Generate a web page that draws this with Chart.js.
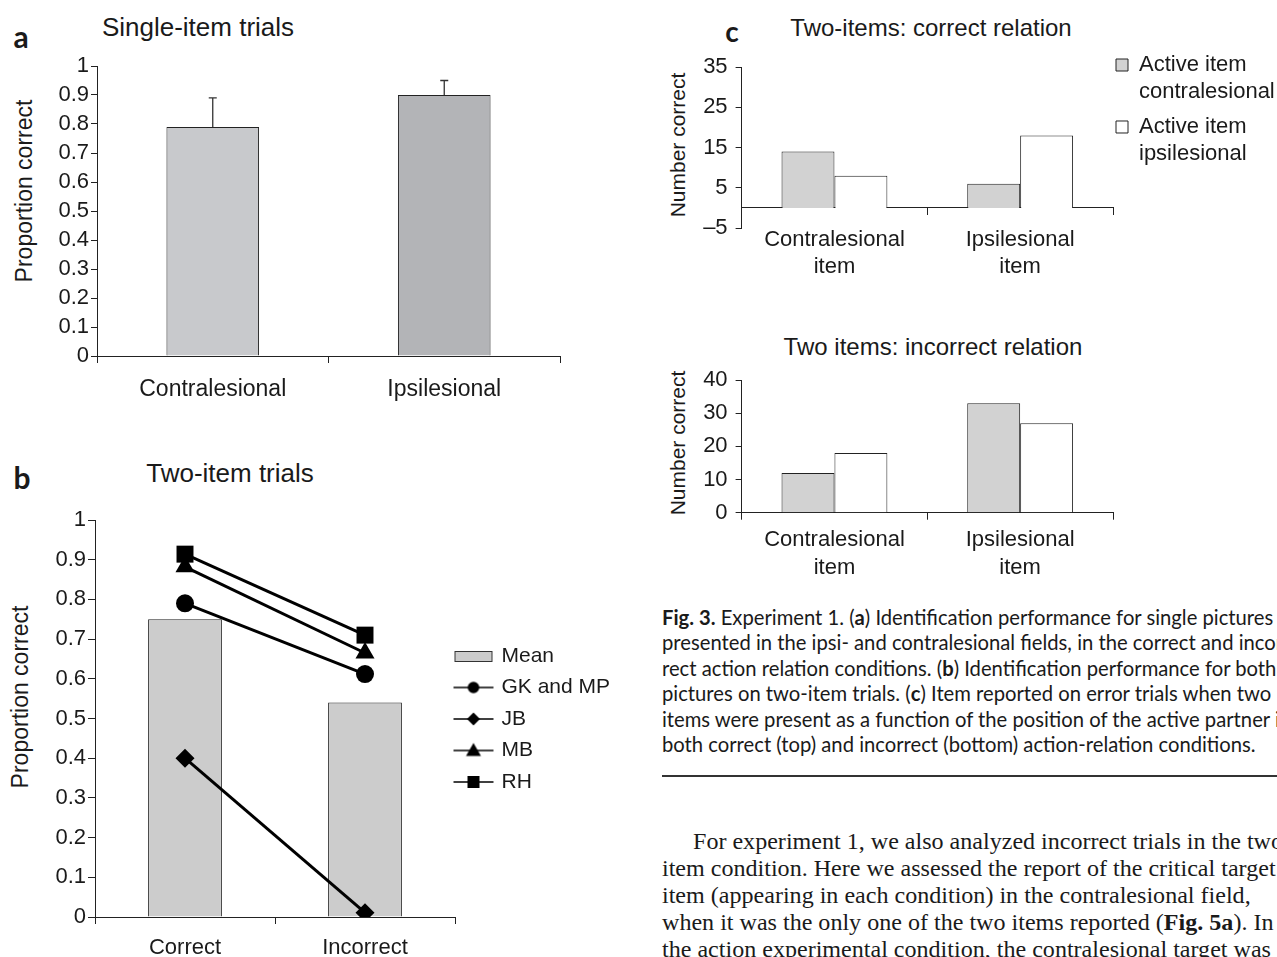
<!DOCTYPE html>
<html>
<head>
<meta charset="utf-8">
<script src="https://cdn.jsdelivr.net/npm/chart.js@4.4.1/dist/chart.umd.min.js"></script>
<style>
  html, body { margin: 0; padding: 0; background: #fff; }
  body { width: 1277px; height: 957px; position: relative; overflow: hidden;
         font-family: "Liberation Sans", Arial, sans-serif; color: #1a1a1a; }
  canvas { position: absolute; }
  .lbl { position: absolute; white-space: nowrap; line-height: 1; transform: translate(-50%, -50%); }
  .letter { font-family: Lato, sans-serif; font-weight: bold; font-size: 30px; }
  .ytitle { transform: translate(-50%, -50%) rotate(-90deg); }
  .caption { position: absolute; left: 662px; font-family: Lato, sans-serif; font-size: 18px;
             line-height: 25.4px; white-space: nowrap; color: #1a1a1a; }
  .rule { position: absolute; left: 662px; top: 775px; width: 640px; height: 2px; background: #333; }
  .bodytext { position: absolute; left: 662px; font-family: "Liberation Serif", serif; font-size: 21px;
              line-height: 27px; white-space: nowrap; color: #1a1a1a; }
</style>
</head>
<body>

<div class="lbl letter" style="left:21px; top:36px;">a</div>
<div class="lbl" style="left:198px; top:27px; font-size:26px;">Single-item trials</div>
<div class="lbl ytitle" style="left:24px; top:191px; font-size:23px;">Proportion correct</div>
<canvas id="chartA" width="580" height="390" style="left:0; top:40px;"></canvas>

<div class="lbl letter" style="left:22px; top:477px;">b</div>
<div class="lbl" style="left:230px; top:473px; font-size:26px;">Two-item trials</div>
<div class="lbl ytitle" style="left:20px; top:697px; font-size:23px;">Proportion correct</div>
<canvas id="chartB" width="640" height="462" style="left:0; top:495px;"></canvas>

<div class="lbl letter" style="left:732px; top:31px; font-size:28px;">c</div>
<div class="lbl" style="left:931px; top:28px; font-size:24px;">Two-items: correct relation</div>
<div class="lbl ytitle" style="left:677px; top:145px; font-size:21px;">Number correct</div>
<canvas id="chartC1" width="637" height="290" style="left:640px; top:0;"></canvas>

<div class="lbl" style="left:933px; top:347px; font-size:24px;">Two items: incorrect relation</div>
<div class="lbl ytitle" style="left:677px; top:443px; font-size:21px;">Number correct</div>
<canvas id="chartC2" width="637" height="280" style="left:640px; top:310px;"></canvas>

<div class="caption" id="caption" style="top:605px;">
  <div><b>Fig. 3.</b> Experiment 1. (<b>a</b>) Identification performance for single pictures</div>
  <div>presented in the ipsi- and contralesional fields, in the correct and incor-</div>
  <div>rect action relation conditions. (<b>b</b>) Identification performance for both</div>
  <div>pictures on two-item trials. (<b>c</b>) Item reported on error trials when two</div>
  <div>items were present as a function of the position of the active partner in</div>
  <div><span id="capRef">both correct (top) and incorrect (bottom) action-relation conditions.</span></div>
</div>
<div class="rule"></div>
<div class="bodytext" id="bodytext" style="top:828px;">
  <div style="padding-left:31px;"><span id="bodyRef">For experiment 1, we also analyzed incorrect trials</span> in the two-</div>
  <div>item condition. Here we assessed the report of the critical target</div>
  <div>item (appearing in each condition) in the contralesional field,</div>
  <div>when it was the only one of the two items reported (<b>Fig. 5a</b>). In</div>
  <div>the action experimental condition, the contralesional target was</div>
</div>

<script>
// panel a: single-item trials
const singleCats = ['Contralesional', 'Ipsilesional'];
const singleMeans = [0.79, 0.90];
const singleErrors = [0.10, 0.05];
const propTicks = ['0', '0.1', '0.2', '0.3', '0.4', '0.5', '0.6', '0.7', '0.8', '0.9', '1'];

// panel b: two-item trials
const twoCats = ['Correct', 'Incorrect'];
const twoMeans = [0.75, 0.54];
const gkmp = [0.79, 0.612];
const jb = [0.40, 0.011];
const mb = [0.882, 0.665];
const rh = [0.914, 0.71];

// panel c: item reported on error trials
const itemCats = [['Contralesional', 'item'], ['Ipsilesional', 'item']];
const correctContra = [14, 6];
const correctIpsi = [8, 18];
const incorrectContra = [12, 33];
const incorrectIpsi = [18, 27];
const correctTicks = ['\u20135', '5', '15', '25', '35'];
const incorrectTicks = ['0', '10', '20', '30', '40'];

Chart.defaults.font.family = '"Liberation Sans", Arial, sans-serif';
Chart.defaults.color = '#1a1a1a';
Chart.defaults.animation = false;

const INK = '#222';
const GRAY = '#d2d2d2';

const valueAxis = (o) => ({
    min: o.min,
    max: o.max,
    border: { display: true, color: INK, width: 1 },
    grid: { drawOnChartArea: false, drawTicks: true, tickLength: o.tick, color: INK },
    ticks: {
        stepSize: o.step,
        autoSkip: false,
        padding: o.pad,
        font: { size: o.size },
        color: '#1a1a1a',
        callback: (v, i) => o.labels[i]
    },
    afterFit: (s) => { s.width = o.width; }
});

const catAxis = (o) => {
    const axis = {
        border: { display: true, color: INK, width: 1 },
        grid: { offset: true, drawOnChartArea: false, drawTicks: true, tickLength: 7, color: INK },
        ticks: { padding: o.pad, font: { size: o.size, lineHeight: o.lh || 1.2 }, color: '#1a1a1a', maxRotation: 0, autoSkip: false },
        afterFit: (s) => { s.height = o.height; }
    };
    if (o.position) axis.position = o.position;
    return axis;
};

// error bars on top of the panel a bars
const errorBars = {
    id: 'errorBars',
    afterDatasetsDraw(chart) {
        const { ctx } = chart;
        const y = chart.scales.y;
        ctx.save();
        ctx.strokeStyle = '#333';
        ctx.lineWidth = 1.3;
        chart.getDatasetMeta(0).data.forEach((bar, i) => {
            const top = y.getPixelForValue(singleMeans[i] + singleErrors[i]);
            ctx.beginPath();
            ctx.moveTo(bar.x, bar.y);
            ctx.lineTo(bar.x, top);
            ctx.moveTo(bar.x - 4, top);
            ctx.lineTo(bar.x + 4, top);
            ctx.stroke();
        });
        ctx.restore();
    }
};

// moves the legend box so its first item starts at (x, y) on the canvas
const legendAt = {
    id: 'legendAt',
    afterLayout(chart, args, opts) {
        const lg = chart.legend;
        if (!lg || opts.x == null) return;
        const pad = lg.options.labels.padding;
        const dx = opts.x - pad - lg.left;
        const dy = opts.y - pad - lg.top;
        lg.left += dx; lg.right += dx;
        lg.top += dy; lg.bottom += dy;
    }
};

new Chart(document.getElementById('chartA'), {
    type: 'bar',
    data: {
        labels: singleCats,
        datasets: [{
            data: singleMeans,
            backgroundColor: ['#c8c9cc', '#b3b4b7'],
            borderColor: INK,
            borderWidth: 1,
            barPercentage: 0.4,
            categoryPercentage: 1
        }]
    },
    options: {
        responsive: false,
        devicePixelRatio: 1,
        layout: { padding: { top: 26, right: 20, left: 0, bottom: 0 } },
        plugins: { legend: { display: false }, tooltip: { enabled: false } },
        scales: {
            x: catAxis({ size: 23, pad: 13, height: 74 }),
            y: valueAxis({ min: 0, max: 1, step: 0.1, labels: propTicks, size: 22, pad: 2, tick: 6, width: 97 })
        }
    },
    plugins: [errorBars]
});

// legend icons for panel b: a bar swatch and line-plus-marker samples
const legendIcon = (kind) => {
    const c = document.createElement('canvas');
    c.width = 42; c.height = 18;
    const g = c.getContext('2d');
    const cx = 21, cy = 9;
    g.fillStyle = '#000';
    g.strokeStyle = '#000';
    if (kind === 'bar') {
        g.fillStyle = '#cccccc';
        g.fillRect(2, 4, 38, 11);
        g.lineWidth = 1;
        g.strokeStyle = '#333';
        g.strokeRect(2.5, 4.5, 37, 10);
        return c;
    }
    g.lineWidth = 1.5;
    g.beginPath(); g.moveTo(1, cy); g.lineTo(41, cy); g.stroke();
    g.beginPath();
    if (kind === 'circle') {
        g.arc(cx, cy, 5.8, 0, Math.PI * 2);
    } else if (kind === 'rectRot') {
        g.moveTo(cx, cy - 6.5); g.lineTo(cx + 6.5, cy); g.lineTo(cx, cy + 6.5); g.lineTo(cx - 6.5, cy);
    } else if (kind === 'triangle') {
        g.moveTo(cx, cy - 7.5); g.lineTo(cx + 7.5, cy + 5.5); g.lineTo(cx - 7.5, cy + 5.5);
    } else {
        g.rect(cx - 6, cy - 6, 12, 12);
    }
    g.closePath();
    g.fill();
    return c;
};
const twoIcons = [legendIcon('bar'), legendIcon('circle'), legendIcon('rectRot'), legendIcon('triangle'), legendIcon('rect')];

const subjectLine = (label, data, style, radius) => ({
    type: 'line',
    label,
    data,
    order: 0,
    borderColor: '#000',
    borderWidth: 3,
    pointStyle: style,
    pointRadius: radius,
    pointBackgroundColor: '#000',
    pointBorderWidth: 0,
    fill: false
});

new Chart(document.getElementById('chartB'), {
    type: 'bar',
    data: {
        labels: twoCats,
        datasets: [
            {
                type: 'bar',
                label: 'Mean',
                data: twoMeans,
                order: 1,
                backgroundColor: '#cccccc',
                borderColor: INK,
                borderWidth: 1,
                barPercentage: 0.41,
                categoryPercentage: 1
            },
            subjectLine('GK and MP', gkmp, 'circle', 9),
            subjectLine('JB', jb, 'rectRot', 9.5),
            subjectLine('MB', mb, 'triangle', 11),
            subjectLine('RH', rh, 'rect', 12)
        ]
    },
    options: {
        responsive: false,
        devicePixelRatio: 1,
        layout: { padding: { top: 25, right: 185, left: 0, bottom: 0 } },
        plugins: {
            tooltip: { enabled: false },
            legend: {
                position: 'chartArea',
                align: 'start',
                labels: {
                    usePointStyle: true,
                    pointStyleWidth: 35,
                    padding: 10.5,
                    font: { size: 21 },
                    color: '#1a1a1a',
                    sort: (a, b) => a.datasetIndex - b.datasetIndex,
                    generateLabels: (chart) => Chart.defaults.plugins.legend.labels.generateLabels(chart)
                        .map((item) => Object.assign(item, { pointStyle: twoIcons[item.datasetIndex] }))
                }
            },
            legendAt: { x: 456, y: 150.5 }
        },
        scales: {
            x: catAxis({ size: 22, pad: 11, height: 462 - 422 }),
            y: valueAxis({ min: 0, max: 1, step: 0.1, labels: propTicks, size: 22, pad: 2, tick: 7, width: 95 })
        }
    },
    plugins: [legendAt]
});

new Chart(document.getElementById('chartC1'), {
    type: 'bar',
    data: {
        labels: itemCats,
        datasets: [
            { label: ['Active item', 'contralesional'], data: correctContra, backgroundColor: GRAY, borderColor: INK, borderWidth: 1, barPercentage: 1, categoryPercentage: 0.57 },
            { label: ['Active item', 'ipsilesional'], data: correctIpsi, backgroundColor: '#ffffff', borderColor: INK, borderWidth: 1, barPercentage: 1, categoryPercentage: 0.57 }
        ]
    },
    options: {
        responsive: false,
        devicePixelRatio: 1,
        layout: { padding: { top: 67, right: 164, left: 0, bottom: 62 } },
        plugins: {
            tooltip: { enabled: false },
            legend: {
                position: 'chartArea',
                align: 'start',
                labels: {
                    boxWidth: 12,
                    boxHeight: 12,
                    padding: 8,
                    font: { size: 22, lineHeight: 1.227 },
                    color: '#1a1a1a'
                }
            },
            legendAt: { x: 476, y: 54 }
        },
        scales: {
            x: catAxis({ size: 22, pad: 11, lh: 1.25, height: 0, position: { y: 0 } }),
            y: valueAxis({ min: -5, max: 35, step: 10, labels: correctTicks, size: 22, pad: 8, tick: 6, width: 101.6 })
        }
    },
    plugins: [legendAt]
});

new Chart(document.getElementById('chartC2'), {
    type: 'bar',
    data: {
        labels: itemCats,
        datasets: [
            { label: 'Active item contralesional', data: incorrectContra, backgroundColor: GRAY, borderColor: INK, borderWidth: 1, barPercentage: 1, categoryPercentage: 0.57 },
            { label: 'Active item ipsilesional', data: incorrectIpsi, backgroundColor: '#ffffff', borderColor: INK, borderWidth: 1, barPercentage: 1, categoryPercentage: 0.57 }
        ]
    },
    options: {
        responsive: false,
        devicePixelRatio: 1,
        layout: { padding: { top: 70, right: 164, left: 0, bottom: 0 } },
        plugins: { legend: { display: false }, tooltip: { enabled: false } },
        scales: {
            x: catAxis({ size: 22, pad: 6.5, lh: 1.25, height: 77.3 }),
            y: valueAxis({ min: 0, max: 40, step: 10, labels: incorrectTicks, size: 22, pad: 8, tick: 6, width: 101.6 })
        }
    }
});

// scale the caption and body text so the reference line widths are met
const fitFont = (blockId, refId, target) => {
    const block = document.getElementById(blockId);
    const base = parseFloat(getComputedStyle(block).fontSize);
    const w = document.getElementById(refId).getBoundingClientRect().width;
    if (w > 0) block.style.fontSize = (base * target / w).toFixed(2) + 'px';
};
fitFont('caption', 'capRef', 594);
fitFont('bodytext', 'bodyRef', 488);
</script>
</body>
</html>
